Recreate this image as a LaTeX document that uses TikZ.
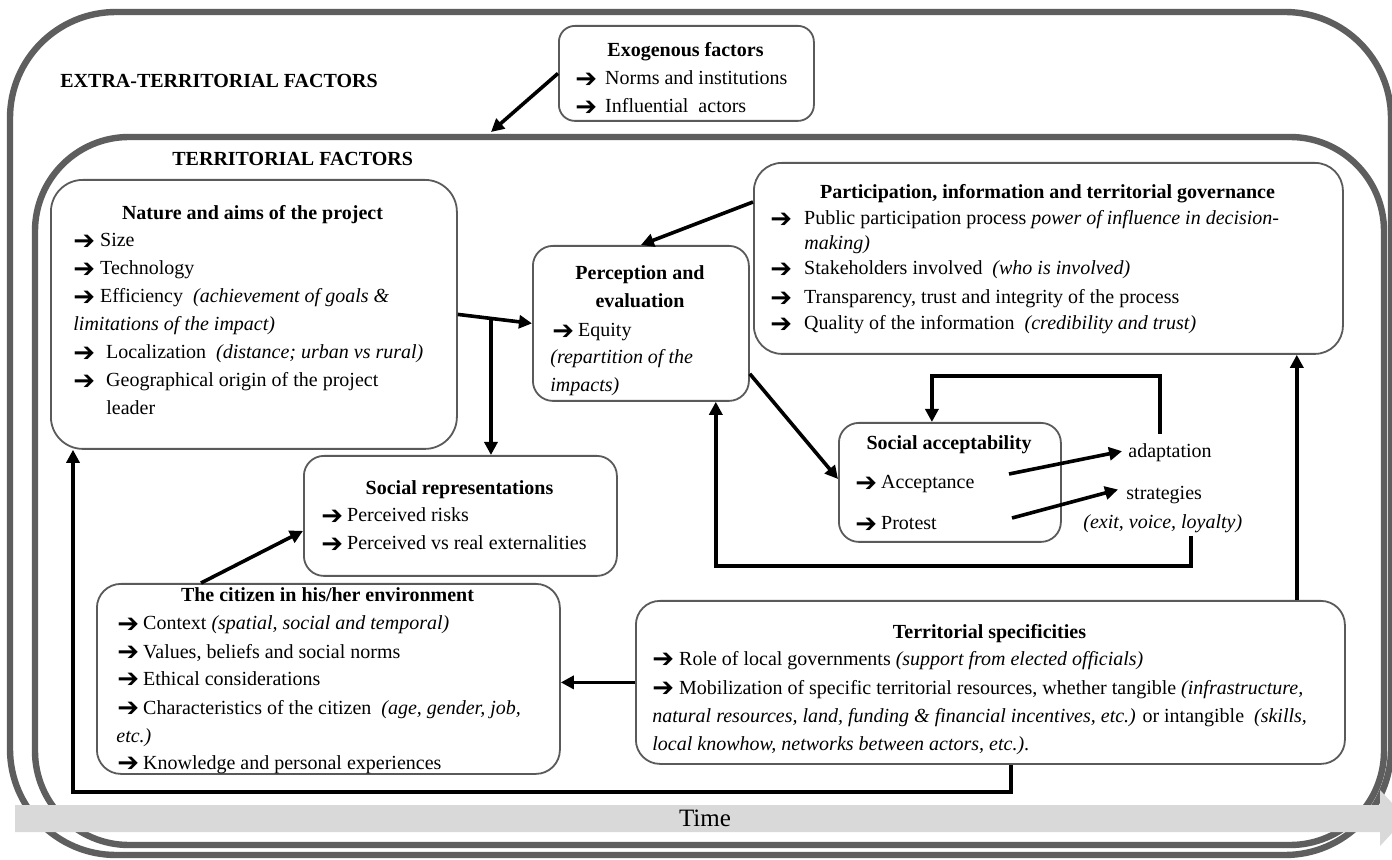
\documentclass[tikz,border=0pt]{standalone}
\usepackage{fontspec}
\setmainfont{Liberation Serif}
\newfontfamily\dejavu{DejaVu Sans}
\usetikzlibrary{arrows.meta,calc}
\definecolor{framegray}{HTML}{5E5E5E}
\definecolor{boxgray}{HTML}{5A5A5A}
\definecolor{bandgray}{HTML}{D9D9D9}
\newcommand\arr[1][2.5pt]{\raisebox{-1.1pt}{\dejavu\bfseries\fontsize{13}{14}\selectfont ➔}\hspace{#1}}
\begin{document}
\begin{tikzpicture}[x=0.5pt,y=-0.5pt,
  frame/.style={draw=framegray,line width=3.2pt},
  box/.style={draw=boxgray,line width=0.9pt,fill=white,inner sep=0pt,anchor=north west},
  txt/.style={inner sep=0pt,font=\fontsize{10}{14}\selectfont,anchor=base west},
  hd/.style={inner sep=0pt,font=\fontsize{10}{14}\selectfont\bfseries,anchor=base},
  conn/.style={draw=black,line width=1.8pt,-{Triangle[length=6.5pt,width=6.5pt]}},
]
\useasboundingbox (0,0) rectangle (1392,860);
\fill[white] (0,0) rectangle (1392,860);

% frames
\draw[frame, rounded corners=53pt] (10,12) rectangle (1391,855);
\draw[frame, rounded corners=47pt] (35,137) rectangle (1384,845);

% time band
\fill[bandgray] (15,805) -- (1380,805) -- (1380,790) -- (1406,818) -- (1380,846) -- (1380,832) -- (15,832) -- cycle;
\node[inner sep=0pt,font=\fontsize{12.5}{14}\selectfont] (time) at (705,818) {Time};

% labels
\node[hd,anchor=base west] (extra) at (60,88) {EXTRA-TERRITORIAL FACTORS};
\node[hd,anchor=base west] (terrlab) at (172,166) {TERRITORIAL FACTORS};

% boxes
\node[box, rounded corners=8pt, minimum width=127.5pt, minimum height=47.5pt] (exo) at (558,25) {};
\node[box, rounded corners=16pt, minimum width=203pt, minimum height=134.5pt] (nat) at (50,179) {};
\node[box, rounded corners=10pt, minimum width=108pt, minimum height=77.5pt] (perc) at (532,245) {};
\node[box, rounded corners=14pt, minimum width=294.5pt, minimum height=95.5pt] (part) at (753,162) {};
\node[box, rounded corners=10pt, minimum width=111pt, minimum height=59.5pt] (acc) at (838,422) {};
\node[box, rounded corners=10pt, minimum width=156.5pt, minimum height=60pt] (soc) at (303,455) {};
\node[box, rounded corners=12pt, minimum width=231.5pt, minimum height=95pt] (cit) at (96,583) {};
\node[box, rounded corners=12pt, minimum width=354.5pt, minimum height=81.5pt] (terr) at (635,600) {};

% exogenous
\node[hd] (exot) at (685.5,57) {Exogenous factors};
\node[txt] (exo1) at (575,85) {\arr[4pt]Norms and institutions};
\node[txt] (exo2) at (575,113) {\arr[4pt]Influential\ \ actors};

% nature
\node[hd] (natt) at (252.5,220) {Nature and aims of the project};
\node[txt] (nat1) at (73,247) {\arr Size};
\node[txt] (nat2) at (73,275) {\arr Technology};
\node[txt] (nat3) at (73,303) {\arr Efficiency\ \ \textit{(achievement of goals \&}};
\node[txt] (nat4) at (73,331) {\textit{limitations of the impact)}};
\node[txt] (nat5) at (73,359) {\arr[5.5pt]Localization\ \ \textit{(distance; urban vs rural)}};
\node[txt] (nat6) at (73,387) {\arr[5.5pt]Geographical\ origin\ of the project};
\node[txt] (nat7) at (106,415) {leader};

% perception
\node[hd] (perct1) at (640,280) {Perception and};
\node[hd] (perct2) at (640,308) {evaluation};
\node[txt] (perc1) at (552,337) {\arr[2pt]Equity};
\node[txt] (perc2) at (550,364) {\textit{(repartition of the}};
\node[txt] (perc3) at (550,392) {\textit{impacts)}};

% participation
\node[hd] (partt) at (1047.5,199) {Participation, information and territorial governance};
\node[txt] (part1) at (770,225) {\arr[6pt]Public participation process \textit{power of influence in decision-}};
\node[txt] (part2) at (804,250) {\textit{making)}};
\node[txt] (part3) at (770,275) {\arr[6pt]Stakeholders involved\ \ \textit{(who is involved)}};
\node[txt] (part4) at (770,304) {\arr[6pt]Transparency, trust and integrity\ of the process};
\node[txt] (part5) at (770,330) {\arr[6pt]Quality\ of the information\ \ \textit{(credibility and trust)}};

% acceptability
\node[hd] (acct) at (949,450) {Social acceptability};
\node[txt] (acc1) at (855,489) {\arr[2pt]Acceptance};
\node[txt] (acc2) at (855,530) {\arr[2pt]Protest};
\node[txt] (adapt) at (1128,458) {adaptation};
\node[txt] (strat) at (1126,500) {strategies};
\node[txt] (evl) at (1083,529) {\textit{(exit, voice, loyalty)}};

% social representations
\node[hd] (soct) at (459.5,495) {Social representations};
\node[txt] (soc1) at (321,522) {\arr[2pt]Perceived risks};
\node[txt] (soc2) at (321,550) {\arr[2pt]Perceived vs real\ externalities};

% citizen
\node[hd] (citt) at (327.5,602) {The citizen in his/her environment};
\node[txt] (cit1) at (117,630) {\arr[2pt]Context \textit{(spatial, social and temporal)}};
\node[txt] (cit2) at (117,658) {\arr[2pt]Values,\ beliefs and social norms};
\node[txt] (cit3) at (117,685) {\arr[2pt]Ethical\ considerations};
\node[txt] (cit4) at (117,714) {\arr[2pt]Characteristics of the citizen\ \ \textit{(age, gender, job,}};
\node[txt] (cit5) at (116,742) {\textit{etc.)}};
\node[txt] (cit6) at (117,769) {\arr[2pt]Knowledge and personal experiences};

% territorial
\node[hd] (terrt) at (989.5,639) {Territorial specificities};
\node[txt] (terr1) at (652,665) {\arr Role of local governments \textit{(support from elected officials)}};
\node[txt] (terr2) at (652,694) {\arr Mobilization\ of specific territorial\ resources, whether\ tangible\ \textit{(infrastructure,}};
\node[txt] (terr3) at (652,722) {\textit{natural resources,\ land, funding \& financial incentives, etc.)} or intangible\ \ \textit{(skills,}};
\node[txt] (terr4) at (652,750) {\textit{local knowhow, networks between actors, etc.)}.};

% coordinates
\coordinate (innertop) at (491,132);
\coordinate (br) at ($(nat.east)!0.447!(perc.west)$);
\coordinate (accout) at (1009,474);
\coordinate (protout) at (1012,518);
\coordinate (loop1) at (1160,434);
\coordinate (loop2) at (1191,536);
\coordinate (tp) at ([xshift=-24.5pt]terr.north east);
\coordinate (tb) at ([xshift=-167.5pt]terr.south east);

% connectors
\draw[conn] (exo.west) -- (innertop);
\draw[conn] (nat.east) -- (perc.west);
\draw[conn] (br) -- (br |- soc.north);
\draw[conn] ([yshift=-20pt]part.north west) -- (perc.north);
\draw[conn] ([yshift=14pt]perc.south east) -- ([yshift=-28.5pt]acc.north west);
\draw[conn] (accout) -- ([xshift=-3pt,yshift=1pt]adapt.west);
\draw[conn] (protout) -- ([xshift=-4pt,yshift=3pt]strat.west);
\draw[conn] (loop1) -- ++(0,-58) -| ([xshift=-9pt]acc.north);
\draw[conn] (loop2) -- ++(0,30) -| ([xshift=-17pt]perc.south east);
\draw[conn] ([xshift=52.5pt]cit.north west) -- ([yshift=-7.5pt]soc.west);
\draw[conn] (terr.west) -- (terr.west -| cit.east);
\draw[conn] (tp) -- (tp |- part.south);
\draw[conn] (tb) -- ++(0,27) -| ([xshift=11.5pt]nat.south west);
\end{tikzpicture}
\end{document}
